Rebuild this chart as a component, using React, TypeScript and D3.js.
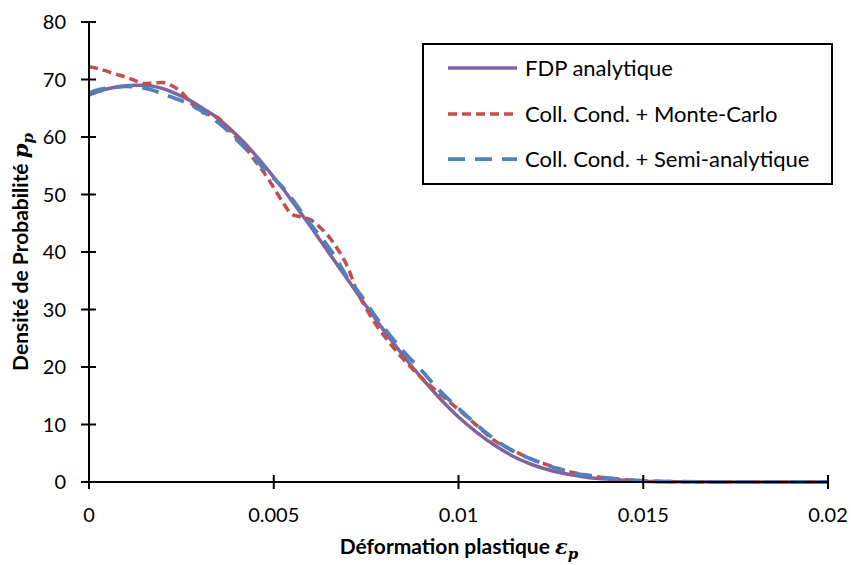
import React from "react";
import * as d3 from "d3";

// strain values (×1e-3 → converted below)
const strainMilli: number[] = [
  0, 0.25, 0.5, 0.75, 1.0, 1.25, 1.5, 1.75, 2.0, 2.25, 2.5, 2.75, 3.0, 3.25, 3.5, 3.75,
  4.0, 4.25, 4.5, 4.75, 5.0, 5.25, 5.5, 5.75, 6.0, 6.25, 6.5, 6.75, 7.0, 7.25, 7.5, 7.75,
  8.0, 8.5, 9.0, 9.5, 10.0, 10.5, 11.0, 11.5, 12.0, 12.5, 13.0, 13.5, 14.0, 14.5, 15.0,
  16, 17, 18, 19, 20,
];

const pdfAnalytique: number[] = [
  67.3, 67.9, 68.4, 68.7, 68.9, 69.0, 69.0, 68.8, 68.4, 67.8, 67.1, 66.3, 65.3, 64.3, 63.2, 61.8,
  60.3, 58.7, 56.9, 55.0, 53.0, 51.0, 48.8, 46.6, 44.4, 42.1, 39.8, 37.5, 35.2, 32.9, 30.6, 28.4,
  26.2, 22.0, 18.1, 14.5, 11.3, 8.6, 6.3, 4.4, 3.0, 2.0, 1.3, 0.8, 0.5, 0.3, 0.15,
  0.05, 0.02, 0, 0, 0,
];

const pdfMonteCarlo: number[] = [
  72.2, 71.9, 71.4, 70.9, 70.4, 69.8, 69.3, 69.4, 69.5, 68.9, 67.8, 66.0, 64.5, 63.9, 63.3, 61.6,
  59.8, 58.0, 55.8, 53.7, 51.2, 48.6, 46.5, 46.1, 45.6, 44.3, 42.6, 40.3, 37.4, 33.2, 30.2, 27.5,
  25.3, 21.4, 18.1, 15.3, 12.6, 9.8, 7.1, 5.4, 3.9, 2.8, 1.8, 1.2, 0.7, 0.4, 0.2,
  0.05, 0, 0, 0, 0,
];

const pdfSemiAnalytique: number[] = [
  67.7, 68.2, 68.5, 68.7, 68.8, 68.7, 68.5, 68.1, 67.5, 66.9, 66.3, 65.6, 64.7, 63.7, 62.5, 61.1,
  59.5, 57.9, 56.1, 54.4, 52.8, 51.2, 49.2, 47.0, 44.8, 42.8, 40.7, 38.2, 35.5, 33.4, 31.2, 28.8,
  26.7, 22.8, 19.4, 15.8, 12.8, 9.9, 7.3, 5.3, 3.9, 2.7, 1.7, 1.1, 0.7, 0.4, 0.2,
  0.05, 0, 0, 0, 0,
];

const xTicks: number[] = [0, 0.005, 0.01, 0.015, 0.02];
const xTickLabels: string[] = ["0", "0.005", "0.01", "0.015", "0.02"];
const yTicks: number[] = [0, 10, 20, 30, 40, 50, 60, 70, 80];

const seriesNames: string[] = [
  "FDP analytique",
  "Coll. Cond. + Monte-Carlo",
  "Coll. Cond. + Semi-analytique",
];

const W = 851;
const H = 565;
const FONT = "Lato, 'Open Sans', sans-serif";

export default function App() {
  const x = d3.scaleLinear().domain([0, 0.02]).range([89, 828]);
  const y = d3.scaleLinear().domain([0, 80]).range([482, 22]);

  const strain = strainMilli.map((v) => v / 1000);
  const line = d3
    .line<[number, number]>()
    .x((d) => x(d[0]))
    .y((d) => y(d[1]))
    .curve(d3.curveMonotoneX);

  const series = [
    { name: seriesNames[0], values: pdfAnalytique, color: "#8064A2", dash: "none", width: 3.5 },
    { name: seriesNames[1], values: pdfMonteCarlo, color: "#C0504D", dash: "9,5", width: 3.5 },
    { name: seriesNames[2], values: pdfSemiAnalytique, color: "#4F81BD", dash: "17,10", width: 3.75 },
  ];

  const legend = { x0: 423, y0: 44, x1: 832, y1: 184 };
  const legendRows = [68, 114, 159];

  return (
    <svg
      width={W}
      height={H}
      style={{ position: "fixed", left: 0, top: 0, background: "#fff" }}
      fontFamily={FONT}
    >
      <rect x={0} y={0} width={W} height={H} fill="#fff" />

      {/* series */}
      {series.map((s) => (
        <path
          key={s.name}
          d={line(strain.map((sv, i) => [sv, s.values[i]] as [number, number])) || ""}
          fill="none"
          stroke={s.color}
          strokeWidth={s.width}
          strokeDasharray={s.dash}
          strokeLinejoin="round"
        />
      ))}

      {/* axes */}
      <line x1={x(0)} x2={x(0)} y1={y(80)} y2={y(0)} stroke="#000" strokeWidth={2} />
      <line x1={x(0)} x2={x(0.02)} y1={y(0)} y2={y(0)} stroke="#000" strokeWidth={2} />
      {yTicks.map((t) => (
        <g key={"y" + t}>
          <line x1={x(0) - 8} x2={x(0) + 7} y1={y(t)} y2={y(t)} stroke="#000" strokeWidth={2} />
          <text x={66} y={y(t) + 7} fontSize={20} textAnchor="end" fill="#000">
            {t}
          </text>
        </g>
      ))}
      {xTicks.map((t, i) => (
        <g key={"x" + t}>
          <line x1={x(t)} x2={x(t)} y1={y(0) - 7} y2={y(0) + 7} stroke="#000" strokeWidth={2} />
          <text x={x(t)} y={522} fontSize={20} textAnchor="middle" fill="#000">
            {xTickLabels[i]}
          </text>
        </g>
      ))}

      {/* axis titles */}
      <text x={459} y={554} fontSize={21} fontWeight="bold" textAnchor="middle" fill="#000">
        Déformation plastique{" "}
        <tspan fontFamily="'DejaVu Serif', serif" fontStyle="italic">ε</tspan>
        <tspan fontFamily="'DejaVu Serif', serif" fontStyle="italic" fontSize={15} dy={5}>p</tspan>
      </text>
      <text
        transform={`translate(28, 252) rotate(-90)`}
        fontSize={21}
        fontWeight="bold"
        textAnchor="middle"
        fill="#000"
      >
        Densité de Probabilité{" "}
        <tspan fontFamily="'DejaVu Serif', serif" fontStyle="italic">p</tspan>
        <tspan fontFamily="'DejaVu Serif', serif" fontStyle="italic" fontSize={15} dy={5}>p</tspan>
      </text>

      {/* legend */}
      <rect
        x={legend.x0}
        y={legend.y0}
        width={legend.x1 - legend.x0}
        height={legend.y1 - legend.y0}
        fill="#fff"
        stroke="#000"
        strokeWidth={2}
      />
      {series.map((s, i) => (
        <g key={"lg" + i}>
          <line
            x1={448}
            x2={517}
            y1={legendRows[i]}
            y2={legendRows[i]}
            stroke={s.color}
            strokeWidth={s.width}
            strokeDasharray={s.dash}
          />
          <text x={525} y={legendRows[i] + 8} fontSize={22} fill="#000">
            {s.name}
          </text>
        </g>
      ))}
    </svg>
  );
}
